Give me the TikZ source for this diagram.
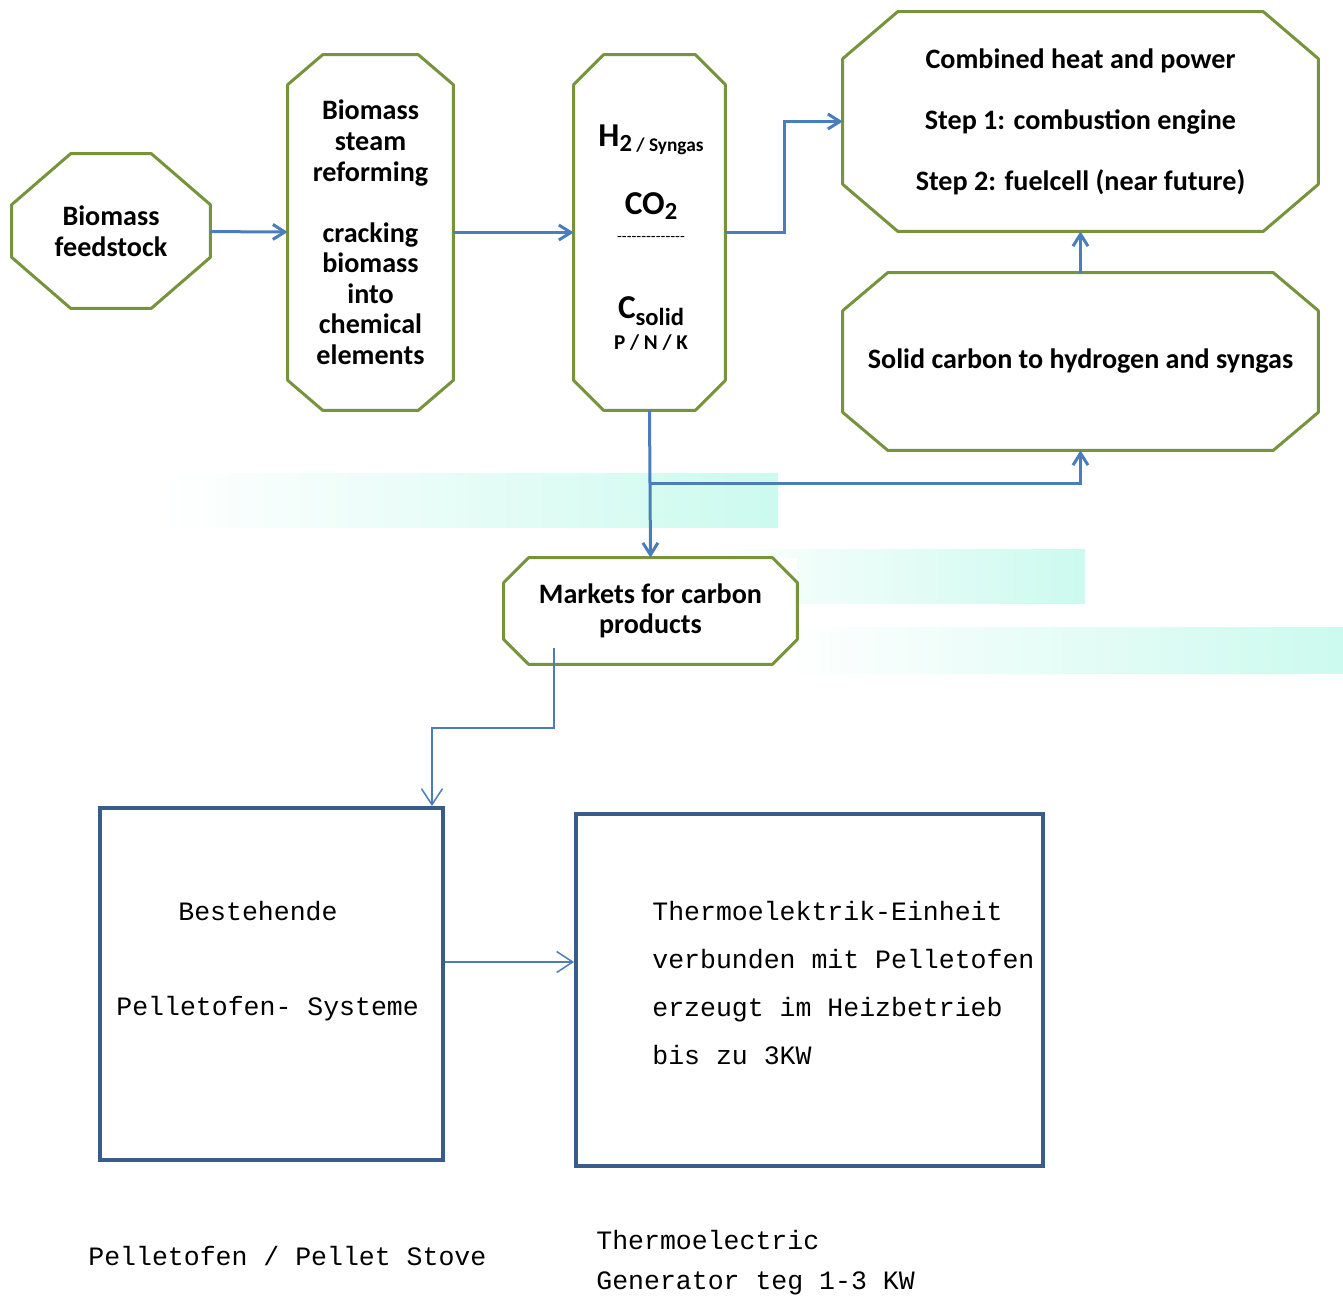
\documentclass[tikz,border=0pt]{standalone}
\usepackage{fontspec}
\setmainfont{Carlito}
\setmonofont{Liberation Mono}
\usetikzlibrary{calc,arrows.meta}
\definecolor{leaf}{HTML}{77933C}
\definecolor{flowblue}{HTML}{4A7EBB}
\definecolor{boxblue}{HTML}{385D8A}
\definecolor{mint}{HTML}{CCFAEE}
\tikzstyle{every node}=[inner sep=0pt,align=center]
\tikzstyle{stage}=[rectangle,fill=white,font=\bfseries\fontsize{16}{17.4}\selectfont]
\tikzstyle{chem}=[font=\bfseries]
\tikzstyle{flow}=[draw=flowblue,line width=0.06cm,-{Straight Barb[length=0.24cm,width=0.3cm]}]
\tikzstyle{thinflow}=[draw=flowblue,line width=0.03cm,-{Straight Barb[length=0.32cm,width=0.42cm]}]
\tikzstyle{unit}=[rectangle,draw=boxblue,line width=0.08cm]
\tikzstyle{mono}=[font=\ttfamily\fontsize{15.1}{27.2}\selectfont,align=left,anchor=base west]
\tikzstyle{band}=[left color=white,right color=mint]

% green octagon round a node: name, cut x, cut y
\newcommand{\octo}[3]{%
\draw[leaf,line width=0.06cm,line join=round]
 ($(#1.north west)+(#2,0)$) -- ($(#1.north east)+(-#2,0)$)
 -- ($(#1.north east)+(0,#3)$) -- ($(#1.south east)+(0,-#3)$)
 -- ($(#1.south east)+(-#2,0)$) -- ($(#1.south west)+(#2,0)$)
 -- ($(#1.south west)+(0,-#3)$) -- ($(#1.north west)+(0,#3)$) -- cycle;}

\begin{document}
\begin{tikzpicture}[x=0.02cm,y=-0.02cm]
\useasboundingbox (0,0) rectangle (1343,1298);

% shaded bands
\shade[band] (160,473) rectangle (778,527);
\shade[band] (700,549) rectangle (1085,603);
\shade[band] (780,627) rectangle (1343,673);

% upper process
\node[stage,minimum width=3.96cm,minimum height=3.08cm] (feed) at (111,231) {Biomass\\feedstock};
\node[stage,minimum width=3.30cm,minimum height=7.10cm] (reform) at (370.5,232.5)
 {Biomass\\steam\\reforming\\[17.4pt]cracking\\biomass\\into\\chemical\\elements};
\node[stage,minimum width=3.02cm,minimum height=7.10cm] (gas) at (649.5,232.5) {};
\node[stage,minimum width=9.50cm,minimum height=4.38cm] (chp) at (1080.5,121.5)
 {Combined heat and power\\[17.4pt]Step 1: combustion engine\\[17.4pt]Step 2: fuelcell (near future)};
\node[stage,minimum width=9.50cm,minimum height=3.54cm] (solid) at (1080.5,361.5)
 {\raisebox{-3pt}{Solid carbon to hydrogen and syngas}};
\node[stage,minimum width=5.86cm,minimum height=2.12cm] (markets) at (650.5,611)
 {\raisebox{-3pt}{Markets for carbon}\\\raisebox{-3pt}{products}};

\octo{feed}{59}{51}
\octo{reform}{35}{30}
\octo{gas}{30}{30}
\octo{chp}{55}{47}
\octo{solid}{45}{38}
\octo{markets}{25}{25}

% contents of the gas node
\node[chem] (h2) at (651,140) {{\fontsize{19}{19}\selectfont H}\raisebox{-3pt}{\fontsize{14}{14}\selectfont 2}\raisebox{-3pt}{\fontsize{11}{11}\selectfont\ / Syngas}};
\node[chem] (co2) at (651,206) {{\fontsize{19}{19}\selectfont CO}\raisebox{-3pt}{\fontsize{14}{14}\selectfont 2}};
\node[font=\fontsize{9}{9}\selectfont] (rule) at (651,239) {\foreach \i in {1,...,14}{-}};
\node[chem] (csolid) at (651,311) {{\fontsize{19}{19}\selectfont C}\raisebox{-4pt}{\fontsize{14}{14}\selectfont solid}};
\node[chem,font=\bfseries\fontsize{12}{12}\selectfont] (pnk) at (651,343) {P / N / K};

% connectors
\coordinate (split) at (649.5,483);
\coordinate (mkout) at (554,648);
\draw[flow] (feed) -- (reform);
\draw[flow] (reform) -- (gas);
\draw[flow] (gas.east) -- ++(59,0) |- (chp.west);
\draw[flow] (gas.south) -- (markets.north);
\draw[flow] (split) -| (solid.south);
\draw[flow] (solid.north) -- (chp.south);

% pellet stove part
\node[unit,minimum width=6.86cm,minimum height=7.04cm] (stove) at (271.5,984) {};
\node[unit,minimum width=9.34cm,minimum height=7.04cm] (teg) at (809.5,990) {};
\node[mono] (best) at (178,920) {Bestehende};
\node[mono] (sys) at (116,1015) {Pelletofen- Systeme};
\node[mono] (tegtxt) at (652,1064) {Thermoelektrik-Einheit\\verbunden mit Pelletofen\\erzeugt im Heizbetrieb\\bis zu 3KW};
\node[mono] (stovecap) at (88,1265) {Pelletofen / Pellet Stove};
\node[mono,font=\ttfamily\fontsize{15.1}{22.7}\selectfont] (tegcap) at (596,1289) {Thermoelectric\\Generator teg 1-3 KW};

\draw[thinflow] (mkout) -- (554,728) -| ($(stove.north east)+(-13,0)$);
\draw[thinflow] ($(stove.east)+(0,-22)$) -- ($(teg.west)+(0,-28)$);
\end{tikzpicture}
\end{document}
